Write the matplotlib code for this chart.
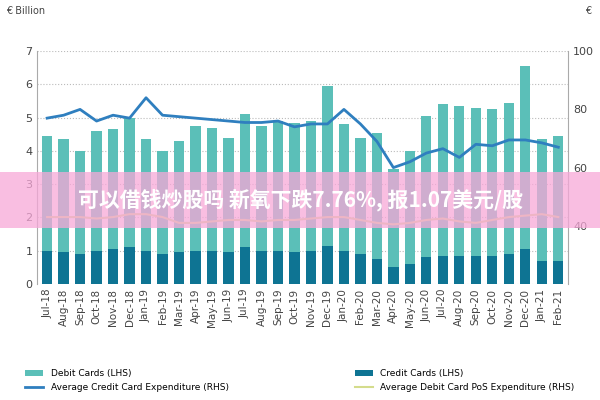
import matplotlib
matplotlib.use("Agg")
import matplotlib.pyplot as plt
import numpy as np

months = ["Jul-18","Aug-18","Sep-18","Oct-18","Nov-18","Dec-18","Jan-19","Feb-19","Mar-19","Apr-19","May-19","Jun-19",
          "Jul-19","Aug-19","Sep-19","Oct-19","Nov-19","Dec-19","Jan-20","Feb-20","Mar-20","Apr-20","May-20","Jun-20",
          "Jul-20","Aug-20","Sep-20","Oct-20","Nov-20","Dec-20","Jan-21","Feb-21"]
debit = [4.45,4.35,4.0,4.6,4.65,5.0,4.35,4.0,4.3,4.75,4.7,4.4,5.1,4.75,4.9,4.85,4.9,5.95,4.8,4.4,4.55,3.45,4.0,5.05,
         5.4,5.35,5.3,5.25,5.45,6.55,4.35,4.45]
credit = [1.0,0.95,0.9,1.0,1.05,1.1,1.0,0.9,0.95,1.0,1.0,0.95,1.1,1.0,1.0,0.95,1.0,1.15,1.0,0.9,0.75,0.5,0.6,0.8,
          0.85,0.85,0.85,0.85,0.9,1.05,0.7,0.7]
avg_credit = [77,78,80,76,78,77,84,78,77.5,77,76.5,76,75.5,75.5,76,74,75,75,80,75,69,60,62,65,66.5,63.5,68,67.5,69.5,69.5,68.5,67]
avg_debit = [43,43,43,42.5,43,44,44,43,41,41,41.5,42,42,41.5,42,42,42.5,43,43,42,41,40.5,41,42,42.5,41.5,41,42,43,43.5,44,43]

fig = plt.figure(figsize=(6,4), dpi=100)
ax = fig.add_axes([0.062, 0.29, 0.885, 0.582])
x = np.arange(len(months))
ax.bar(x, debit, width=0.62, color="#5bbfb8", label="Debit Cards (LHS)", zorder=2)
ax.bar(x, credit, width=0.62, color="#0e7493", label="Credit Cards (LHS)", zorder=3)
ax.set_ylim(0, 7)
ax.set_xlim(-0.6, len(months)-0.4)
ax.set_yticks(range(0, 8))
ax.grid(axis="y", linestyle=":", color="#bbbbbb", zorder=0)
ax.set_xticks(x)
ax.set_xticklabels(months, rotation=90, fontsize=7.5, color="#444444")
ax.tick_params(axis="y", labelsize=8, colors="#444444", length=0)
ax.tick_params(axis="x", length=0)
for s in ["top", "right", "bottom"]:
    ax.spines[s].set_visible(False)
ax.spines["left"].set_color("#aaaaaa")

ax2 = ax.twinx()
ax2.plot(x, avg_credit, color="#2f7fbf", lw=2, label="Average Credit Card Expenditure (RHS)", zorder=4)
ax2.plot(x, avg_debit, color="#d4dc8c", lw=1.5, label="Average Debit Card PoS Expenditure (RHS)", zorder=4)
ax2.set_ylim(20, 100)
ax2.set_yticks([40, 60, 80, 100])
ax2.tick_params(axis="y", labelsize=8, colors="#444444", length=0)
for s in ["top", "left", "bottom"]:
    ax2.spines[s].set_visible(False)
ax2.spines["right"].set_color("#aaaaaa")

fig.text(0.01, 0.965, "€ Billion", fontsize=7, color="#444444")
fig.text(0.975, 0.965, "€", fontsize=7, color="#444444")

h1, l1 = ax.get_legend_handles_labels()
h2, l2 = ax2.get_legend_handles_labels()
fig.legend([h1[0], h2[0], h1[1], h2[1]], [l1[0], l2[0], l1[1], l2[1]], ncol=2, loc="lower center",
           bbox_to_anchor=(0.5, 0.0), fontsize=6.5, frameon=False, columnspacing=14, handlelength=2)

fig.patches.append(plt.Rectangle((0, 0.43), 1, 0.14, transform=fig.transFigure,
                                 facecolor="#f7a8d8", alpha=0.75, zorder=10))
fig.text(0.5, 0.5, "可以借钱炒股吗 新氧下跌7.76%, 报1.07美元/股", fontsize=15, fontweight="bold",
         color="white", ha="center", va="center",
         family=["Noto Sans CJK JP", "Noto Sans CJK SC", "Noto Sans CJK TC", "Noto Sans CJK KR", "DejaVu Sans"],
         zorder=11)

fig.savefig("out.png", dpi=100)
